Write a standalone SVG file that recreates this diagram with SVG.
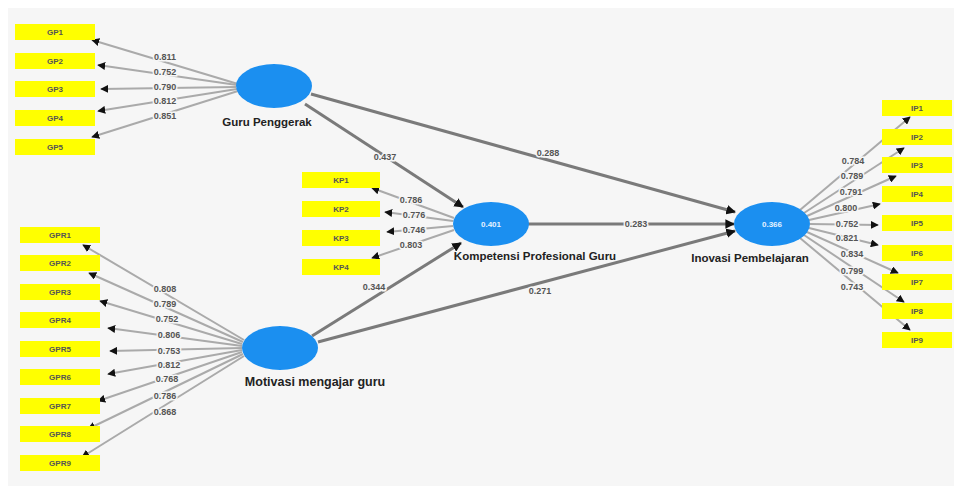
<svg xmlns="http://www.w3.org/2000/svg" width="959" height="491" viewBox="0 0 959 491">
<defs>
<style>
.bg{fill:#f6f6f6}
.box{fill:#ffff00}
.bt{font-family:"Liberation Sans",Arial,sans-serif;font-size:8px;font-weight:bold;fill:#555;text-anchor:middle;dominant-baseline:central}
.lv{fill:#1b8ff0}
.lt{font-family:"Liberation Sans",Arial,sans-serif;font-size:11.5px;font-weight:bold;fill:#222;text-anchor:middle}
.r2{font-family:"Liberation Sans",Arial,sans-serif;font-size:8px;font-weight:bold;fill:#e6f2ff;text-anchor:middle;dominant-baseline:central}
.ld{stroke:#aaaaaa;stroke-width:2;fill:none;marker-end:url(#ah)}
.pt{stroke:#7a7a7a;stroke-width:3;fill:none;marker-end:url(#ah2)}
.nt{font-family:"Liberation Sans",Arial,sans-serif;font-size:9px;font-weight:bold;fill:#555;text-anchor:middle;dominant-baseline:central;paint-order:stroke;stroke:#f6f6f6;stroke-width:3px}
</style>
<marker id="ah" viewBox="0 0 10 10" refX="9" refY="5" markerWidth="4" markerHeight="4" orient="auto"><path d="M0,0 L10,5 L0,10 z" fill="#111"/></marker>
<marker id="ah2" viewBox="0 0 10 10" refX="9" refY="5" markerWidth="3.2" markerHeight="3.2" orient="auto"><path d="M0,0 L10,5 L0,10 z" fill="#111"/></marker>
</defs>
<rect x="0" y="0" width="959" height="491" fill="#ffffff"/>
<rect class="bg" x="8" y="8" width="946" height="478"/>

<g id="connectors">
<!-- GP loadings -->
<line class="ld" x1="238" y1="84" x2="92" y2="40"/>
<line class="ld" x1="237" y1="85" x2="98" y2="65"/>
<line class="ld" x1="236" y1="87" x2="101" y2="89"/>
<line class="ld" x1="237" y1="89" x2="98" y2="111"/>
<line class="ld" x1="238" y1="91" x2="92" y2="137"/>
<!-- GPR loadings -->
<line class="ld" x1="244" y1="340" x2="83" y2="245"/>
<line class="ld" x1="243" y1="342" x2="89" y2="273"/>
<line class="ld" x1="242" y1="344" x2="100" y2="301"/>
<line class="ld" x1="242" y1="346" x2="108" y2="328"/>
<line class="ld" x1="242" y1="348" x2="110" y2="351"/>
<line class="ld" x1="242" y1="350" x2="108" y2="374"/>
<line class="ld" x1="242" y1="352" x2="98" y2="401"/>
<line class="ld" x1="243" y1="354" x2="88" y2="429"/>
<line class="ld" x1="244" y1="356" x2="82" y2="457"/>
<!-- KPG loadings -->
<line class="ld" x1="454" y1="218" x2="372" y2="188"/>
<line class="ld" x1="453" y1="221" x2="385" y2="212"/>
<line class="ld" x1="453" y1="226" x2="387" y2="232"/>
<line class="ld" x1="454" y1="230" x2="372" y2="258"/>
<!-- IP loadings -->
<line class="ld" x1="800" y1="210" x2="910" y2="117"/>
<line class="ld" x1="804" y1="213" x2="904" y2="148"/>
<line class="ld" x1="807" y1="216" x2="896" y2="176"/>
<line class="ld" x1="809" y1="220" x2="880" y2="204"/>
<line class="ld" x1="810" y1="224" x2="878" y2="225"/>
<line class="ld" x1="809" y1="228" x2="878" y2="245"/>
<line class="ld" x1="807" y1="232" x2="898" y2="273"/>
<line class="ld" x1="804" y1="235" x2="904" y2="302"/>
<line class="ld" x1="800" y1="238" x2="910" y2="330"/>
<!-- structural paths -->
<line class="pt" x1="305" y1="104" x2="463" y2="207"/>
<line class="pt" x1="311" y1="94" x2="735" y2="212"/>
<line class="pt" x1="528" y1="224" x2="734" y2="224"/>
<line class="pt" x1="312" y1="336" x2="461" y2="243"/>
<line class="pt" x1="318" y1="342" x2="735" y2="231"/>
<!-- labels -->
<text class="nt" x="165" y="57">0.811</text>
<text class="nt" x="165" y="72">0.752</text>
<text class="nt" x="165" y="87">0.790</text>
<text class="nt" x="165" y="101">0.812</text>
<text class="nt" x="165" y="116">0.851</text>
<text class="nt" x="165" y="289">0.808</text>
<text class="nt" x="165" y="304">0.789</text>
<text class="nt" x="167" y="319">0.752</text>
<text class="nt" x="169" y="335">0.806</text>
<text class="nt" x="169" y="351">0.753</text>
<text class="nt" x="169" y="365">0.812</text>
<text class="nt" x="167" y="379">0.768</text>
<text class="nt" x="165" y="396">0.786</text>
<text class="nt" x="165" y="412">0.868</text>
<text class="nt" x="411" y="200">0.786</text>
<text class="nt" x="414" y="215">0.776</text>
<text class="nt" x="414" y="230">0.746</text>
<text class="nt" x="411" y="245">0.803</text>
<text class="nt" x="853" y="161">0.784</text>
<text class="nt" x="852" y="176">0.789</text>
<text class="nt" x="851" y="192">0.791</text>
<text class="nt" x="846" y="208">0.800</text>
<text class="nt" x="847" y="224">0.752</text>
<text class="nt" x="847" y="238">0.821</text>
<text class="nt" x="852" y="254">0.834</text>
<text class="nt" x="852" y="271">0.799</text>
<text class="nt" x="852" y="287">0.743</text>
<text class="nt" x="385" y="157">0.437</text>
<text class="nt" x="548" y="153">0.288</text>
<text class="nt" x="636" y="224">0.283</text>
<text class="nt" x="374" y="287">0.344</text>
<text class="nt" x="540" y="291">0.271</text>
</g>

<g id="GP">
<ellipse class="lv" cx="274" cy="86" rx="38" ry="22"/>
<text class="lt" x="267" y="126">Guru Penggerak</text>
</g>
<g id="MMG">
<ellipse class="lv" cx="280" cy="348" rx="38" ry="22"/>
<text class="lt" x="315" y="386" style="font-size:12.5px">Motivasi mengajar guru</text>
</g>
<g id="KPG">
<ellipse class="lv" cx="491" cy="224" rx="38" ry="22"/>
<text class="r2" x="491" y="224">0.401</text>
<text class="lt" x="535" y="260">Kompetensi Profesional Guru</text>
</g>
<g id="IP">
<ellipse class="lv" cx="772" cy="224" rx="38" ry="22"/>
<text class="r2" x="772" y="224">0.366</text>
<text class="lt" x="750" y="262">Inovasi Pembelajaran</text>
</g>

<g id="GP-items">
<rect class="box" x="15" y="24" width="80" height="16"/><text class="bt" x="55" y="32">GP1</text>
<rect class="box" x="15" y="53" width="80" height="16"/><text class="bt" x="55" y="61">GP2</text>
<rect class="box" x="15" y="81" width="80" height="16"/><text class="bt" x="55" y="89">GP3</text>
<rect class="box" x="15" y="110" width="80" height="16"/><text class="bt" x="55" y="118">GP4</text>
<rect class="box" x="15" y="139" width="80" height="16"/><text class="bt" x="55" y="147">GP5</text>
</g>
<g id="GPR-items">
<rect class="box" x="20" y="227" width="80" height="16"/><text class="bt" x="60" y="235">GPR1</text>
<rect class="box" x="20" y="255" width="80" height="16"/><text class="bt" x="60" y="263">GPR2</text>
<rect class="box" x="20" y="284" width="80" height="16"/><text class="bt" x="60" y="292">GPR3</text>
<rect class="box" x="20" y="312" width="80" height="16"/><text class="bt" x="60" y="320">GPR4</text>
<rect class="box" x="20" y="341" width="80" height="16"/><text class="bt" x="60" y="349">GPR5</text>
<rect class="box" x="20" y="369" width="80" height="16"/><text class="bt" x="60" y="377">GPR6</text>
<rect class="box" x="20" y="398" width="80" height="16"/><text class="bt" x="60" y="406">GPR7</text>
<rect class="box" x="20" y="426" width="80" height="16"/><text class="bt" x="60" y="434">GPR8</text>
<rect class="box" x="20" y="455" width="80" height="16"/><text class="bt" x="60" y="463">GPR9</text>
</g>
<g id="KPG-items">
<rect class="box" x="302" y="172" width="78" height="16"/><text class="bt" x="341" y="180">KP1</text>
<rect class="box" x="302" y="201" width="78" height="16"/><text class="bt" x="341" y="209">KP2</text>
<rect class="box" x="302" y="230" width="78" height="16"/><text class="bt" x="341" y="238">KP3</text>
<rect class="box" x="302" y="259" width="78" height="16"/><text class="bt" x="341" y="267">KP4</text>
</g>
<g id="IP-items">
<rect class="box" x="882" y="100" width="70" height="16"/><text class="bt" x="917" y="108">IP1</text>
<rect class="box" x="882" y="129" width="70" height="16"/><text class="bt" x="917" y="137">IP2</text>
<rect class="box" x="882" y="157" width="70" height="16"/><text class="bt" x="917" y="165">IP3</text>
<rect class="box" x="882" y="186" width="70" height="16"/><text class="bt" x="917" y="194">IP4</text>
<rect class="box" x="882" y="215" width="70" height="16"/><text class="bt" x="917" y="223">IP5</text>
<rect class="box" x="882" y="245" width="70" height="16"/><text class="bt" x="917" y="253">IP6</text>
<rect class="box" x="882" y="274" width="70" height="16"/><text class="bt" x="917" y="282">IP7</text>
<rect class="box" x="882" y="303" width="70" height="16"/><text class="bt" x="917" y="311">IP8</text>
<rect class="box" x="882" y="332" width="70" height="16"/><text class="bt" x="917" y="340">IP9</text>
</g>
</svg>
